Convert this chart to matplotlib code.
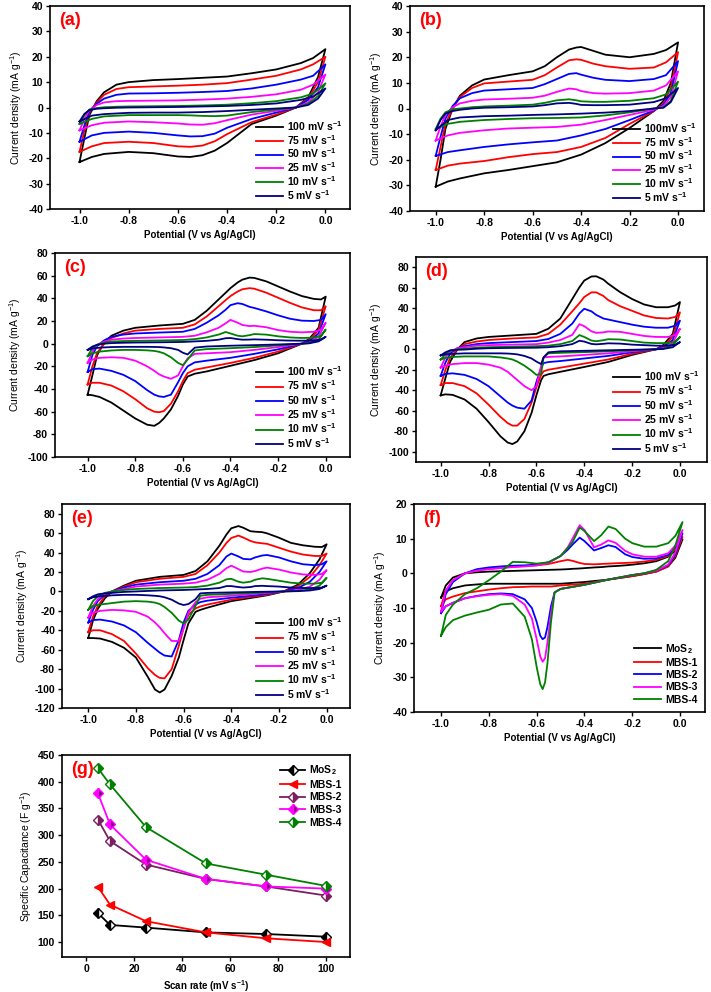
# -*- coding: utf-8 -*-
import matplotlib
matplotlib.use("Agg")
import matplotlib.pyplot as plt

plt.rcParams['font.family'] = ['Liberation Sans', 'DejaVu Sans']
plt.rcParams['mathtext.default'] = 'regular'

# ---------------- data ----------------
rate_labels = ['100 mV s$^{-1}$', '75 mV s$^{-1}$', '50 mV s$^{-1}$',
               '25 mV s$^{-1}$', '10 mV s$^{-1}$', '5 mV s$^{-1}$']
rate_labels_b = ['100mV s$^{-1}$'] + rate_labels[1:]
rate_colors = ['#000000', '#ff0000', '#0000ff', '#ff00ff', '#008000', '#000080']

# (a)
a_x_up = [-1.0, -0.98, -0.96, -0.93, -0.9, -0.85, -0.8, -0.7, -0.6, -0.5, -0.4, -0.3, -0.2, -0.1, -0.05, 0.0]
a_x_dn = [0.0, -0.03, -0.07, -0.12, -0.2, -0.3, -0.4, -0.45, -0.5, -0.55, -0.6, -0.7, -0.8, -0.9, -0.95, -1.0]
a_up = [
    [-21.5, -12, -3, 2.5, 6, 9, 10, 10.8, 11.2, 11.7, 12.2, 13.5, 15, 17.5, 19.5, 23],
    [-17.5, -9, -2, 2, 5, 7.3, 8, 8.3, 8.6, 9, 9.6, 11, 12.5, 15, 17, 20],
    [-13.5, -7, -1.5, 1.5, 3.5, 5, 5.5, 5.6, 5.8, 6.1, 6.5, 7.5, 9, 11, 12.5, 17],
    [-9, -4.5, -1, 1, 2, 2.5, 2.6, 2.7, 2.8, 3.1, 3.5, 4.2, 5.2, 7, 9, 13],
    [-6.5, -3, -0.8, -0.2, 0.1, 0.3, 0.4, 0.5, 0.6, 0.8, 1.1, 1.7, 2.5, 4, 5.5, 9.5],
    [-5.5, -2.5, -1, -0.5, -0.3, -0.1, 0, 0.1, 0.2, 0.4, 0.6, 1, 1.6, 3, 4.3, 7.5],
]
a_dn = [
    [23, 12, 4, 0, -3.2, -6.5, -14, -17, -18.8, -19.5, -19.3, -18, -17.5, -18.3, -19.5, -21.5],
    [20, 10, 3.5, 0, -2.8, -5.8, -10.5, -13.3, -15, -15.5, -15.3, -14, -13.5, -14, -15.3, -17.5],
    [17, 8, 3, 0, -2, -4.5, -8, -10.3, -11.3, -11.4, -11, -10, -9.5, -10, -11, -13.5],
    [13, 6, 2, 0, -1.3, -2.8, -5, -6.2, -6.8, -6.7, -6.3, -5.8, -5.5, -6, -7, -9],
    [9.5, 4.5, 1.5, 0, -0.8, -1.8, -3.2, -3.4, -3.3, -3.1, -3, -3, -3, -3.5, -4.5, -6.5],
    [7.5, 3.5, 1, 0, -0.4, -0.9, -1.4, -1.6, -1.8, -1.9, -2, -2, -2.1, -2.6, -3.2, -5.5],
]

# (b)
b_x_up = [-1.0, -0.98, -0.96, -0.93, -0.9, -0.85, -0.8, -0.7, -0.6, -0.55, -0.5, -0.45, -0.42, -0.4, -0.35, -0.3, -0.2, -0.1, -0.05, 0.0]
b_x_dn = [0.0, -0.03, -0.06, -0.1, -0.2, -0.3, -0.4, -0.5, -0.6, -0.7, -0.8, -0.9, -0.95, -1.0]
b_up = [
    [-30.5, -20, -8, 0, 5, 9, 11.3, 13, 14.5, 16.5, 20, 23, 23.8, 24, 22.5, 21, 20, 21.3, 22.8, 25.8],
    [-24, -15, -6, 0, 4.5, 8, 9.8, 10.5, 11.2, 13, 16, 18.8, 19.2, 19, 17.5, 16.5, 15.5, 16, 18, 22],
    [-18.5, -11, -4, 1, 4, 6, 7, 7.5, 8, 9.5, 11.5, 13.5, 13.8, 13.2, 12, 11.2, 10.7, 11.5, 13, 18.5],
    [-12.5, -7, -2.5, 0.5, 2, 3, 3.5, 3.8, 4.2, 5, 6.5, 7.8, 7.5, 6.8, 6, 5.8, 6, 7, 9, 14.5],
    [-8, -4, -1.5, -0.3, 0, 0.5, 0.8, 1.1, 1.5, 2.2, 3.2, 3.6, 3.2, 2.8, 2.6, 2.6, 3, 4, 5.5, 10.5],
    [-8.5, -4.5, -2, -1, -0.5, 0, 0.3, 0.5, 0.8, 1.3, 2, 2.2, 1.8, 1.4, 1.3, 1.3, 1.5, 2.5, 4, 8],
]
b_dn = [
    [25.8, 10, 3, -1, -7.6, -13.5, -18, -21, -22.5, -24, -25.3, -27.3, -28.5, -30.5],
    [22, 8, 2, -1, -6, -11.5, -15, -17, -17.8, -19, -20.5, -21.5, -22.3, -24],
    [18.5, 6, 1.5, -0.8, -4.5, -8, -10.5, -12.5, -13.2, -14, -15, -16.3, -17, -18.5],
    [14.5, 4.5, 1, -0.5, -2.5, -4.5, -6.3, -7.2, -7.5, -7.8, -8.5, -9.5, -10.5, -12.5],
    [10.5, 3, 0.5, 0, -1.5, -2.7, -3.5, -3.7, -3.8, -4.1, -4.5, -5.2, -6, -8],
    [8, 2.5, 0.3, 0, -1, -1.6, -2, -2.3, -2.5, -2.8, -3, -3.5, -4.5, -8.5],
]

# (c)
c_x_up = [-1.0, -0.98, -0.96, -0.93, -0.9, -0.85, -0.8, -0.7, -0.6, -0.55, -0.5, -0.45, -0.42,
          -0.4, -0.37, -0.35, -0.32, -0.3, -0.25, -0.2, -0.15, -0.1, -0.05, -0.02, 0.0]
c_x_dn = [0.0, -0.03, -0.07, -0.1, -0.2, -0.3, -0.4, -0.5, -0.55, -0.58, -0.6, -0.62,
          -0.65, -0.68, -0.7, -0.72, -0.75, -0.8, -0.85, -0.9, -0.95, -0.98, -1.0]
c_up = [
    [-45, -28, -10, 1, 7, 11.5, 14, 16, 17.5, 21, 29, 39, 45, 49, 54, 56.5, 58.3, 58, 55, 50.5, 46, 42, 39.5, 39, 41.5],
    [-36, -20, -8, 0, 5, 9, 11.5, 13, 14, 17, 24, 33, 38.5, 42, 46, 48, 49, 48.5, 45, 40.5, 36, 32, 29.5, 29.5, 33],
    [-25, -10, -2, 3, 6, 8, 9, 9.8, 10.5, 13, 18.5, 25, 30, 34, 35.7, 35, 32.5, 31.5, 28.5, 25, 22, 20.3, 20, 21, 26],
    [-17, -7, -1, 2, 3.5, 4.5, 5, 5.5, 6, 7, 10, 14, 18, 21, 18.5, 16.5, 15.5, 15.8, 14.5, 12, 10.5, 10, 10.5, 12.5, 18.5],
    [-11, -4, -1, 1, 1.8, 2.3, 2.5, 2.8, 3.2, 4, 5.5, 8, 10.3, 9, 7, 6.5, 7.5, 8.5, 8, 6.5, 5.5, 5, 5.3, 7, 12.5],
    [-5.5, -2.5, -1, 0, 0.5, 0.8, 1, 1.2, 1.5, 2, 2.5, 3.5, 4.8, 5, 4, 3.5, 3.6, 3.8, 3.5, 3, 2.7, 2.6, 2.8, 3.8, 6],
]
c_dn = [
    [41.5, 14, 4, 0, -8.5, -14.5, -19.5, -24.5, -26.5, -29, -36, -46, -58, -66, -70, -72.5, -71.5, -66, -59, -52, -47, -45.5, -45],
    [33, 12, 3, 0, -7, -12.5, -17, -21, -23, -26, -33, -42, -53, -59.5, -60.5, -60, -57, -49, -42, -37, -34.5, -34.5, -36],
    [26, 9, 2, 0, -5, -9, -12.5, -15, -16.5, -20, -26, -34, -45, -47, -46.5, -45, -41, -33, -27.5, -24, -22, -22.5, -25],
    [18.5, 6, 1, 0, -3, -5.5, -7.5, -8.5, -9, -13, -20, -28, -31, -29, -27, -24, -20, -15, -12.5, -12, -12.5, -14, -17],
    [12.5, 3.5, 0.5, 0, -1.5, -3, -4, -4.8, -6, -14, -19, -17, -12, -8.5, -7.2, -6.4, -5.9, -5.5, -5.5, -6, -7, -8.5, -11],
    [6, 2, 0.3, 0, -0.7, -1.3, -1.8, -2.5, -3.5, -9.5, -8, -5.5, -4, -3.3, -3, -2.9, -2.8, -2.8, -2.8, -3, -3.5, -4.3, -5.5],
]

# (d)
d_x_up = c_x_up
d_x_dn = [0.0, -0.03, -0.07, -0.1, -0.2, -0.3, -0.4, -0.5, -0.55, -0.57, -0.58, -0.6, -0.62,
          -0.65, -0.68, -0.7, -0.72, -0.75, -0.8, -0.85, -0.9, -0.95, -0.98, -1.0]
d_up = [
    [-45, -28, -12, 0, 7, 10.5, 12, 13.5, 15, 20, 30, 49, 60.5, 67, 71, 71.2, 68, 64, 55.7, 49, 43.7, 41, 41, 42.7, 46],
    [-35, -20, -8, 0, 5, 7.5, 9, 10.5, 11.5, 15, 24, 37, 45, 51, 55.5, 55.5, 52, 48, 42, 37.5, 33, 30.5, 30, 31.5, 36],
    [-26, -13, -4, 1, 3, 5, 6, 7, 8, 10, 15, 25, 35, 39.5, 37, 33.5, 30, 29, 26.5, 24, 22, 21, 21, 23, 28],
    [-18, -8, -2, 1, 2, 3.5, 4, 4.5, 5, 6.5, 9, 14, 24.5, 22.5, 17.5, 16, 16.5, 17.3, 17, 15, 13, 12, 12, 14, 20],
    [-10, -5, -1.5, 0, 0.5, 1.5, 2, 2.5, 3, 3.5, 5, 8, 13.8, 12, 8.5, 7.8, 8.8, 9.8, 9.5, 8, 6.5, 6, 6, 7.5, 12],
    [-6, -3, -1, -0.5, -0.3, 0.5, 1, 1.3, 1.5, 2, 3, 5, 8.3, 7.5, 5.2, 4.8, 5.3, 5.8, 5.5, 4.5, 4, 3.5, 3.5, 4.5, 7],
]
d_dn = [
    [46, 15, 4, 0, -5.5, -12.4, -17.3, -22, -24.4, -26, -30, -45, -62, -80, -90, -92.5, -91, -85, -71, -58, -49, -44.5, -44, -45],
    [36, 12, 3, 0, -4.5, -10, -14, -18, -20, -21.5, -25, -37, -52, -68, -74.5, -74.5, -72, -66, -54, -43, -36, -33, -33, -35],
    [28, 9, 2, 0, -3, -6.5, -9, -11.5, -12.5, -13.5, -18, -32, -50, -58, -57, -55, -52, -46, -36, -29, -25, -23.5, -24, -26],
    [20, 6, 1, 0, -2, -4, -5.5, -7, -7.5, -8, -16, -36, -40, -36, -30, -26, -22, -18, -15, -13.5, -13.5, -14.5, -16, -18],
    [12, 4, 0.5, 0, -1, -2, -2.8, -3.5, -4, -8, -24, -25, -21, -16, -12, -10, -9, -8, -7, -7, -7, -7.5, -8.5, -10],
    [7, 2, 0.3, 0, -0.5, -1, -1.5, -2, -3, -8, -14.5, -12, -9, -6.5, -5, -4.5, -4.2, -4, -4, -4, -4, -4.5, -5, -6],
]

# (e)
e_x_up = [-1.0, -0.98, -0.96, -0.93, -0.9, -0.85, -0.8, -0.7, -0.6, -0.55, -0.5, -0.45, -0.42,
          -0.4, -0.37, -0.35, -0.32, -0.3, -0.27, -0.25, -0.2, -0.15, -0.1, -0.05, -0.02, 0.0]
e_x_dn = [0.0, -0.03, -0.07, -0.12, -0.18, -0.25, -0.3, -0.4, -0.5, -0.53, -0.55, -0.58, -0.6,
          -0.62, -0.65, -0.68, -0.7, -0.72, -0.75, -0.8, -0.85, -0.9, -0.95, -0.98, -1.0]
e_up = [
    [-48, -30, -18, -7, 0, 6, 11, 15, 17, 21, 31, 47, 58.7, 65, 67.3, 65.6, 62, 61.5, 61, 59.8, 55.3, 50, 47.5, 46, 45.7, 48.5],
    [-42, -26, -15, -5, 0, 5, 9.5, 13, 15, 18, 27, 40, 50, 55, 57.5, 55.5, 52, 50.5, 49.5, 49, 45, 41, 38, 36.5, 36.5, 39],
    [-32, -19, -10, -3, 0, 4, 7, 9.5, 11, 13, 18, 27, 36, 39, 36, 33.5, 33, 35, 37, 37.5, 35, 31, 28, 27, 28, 31],
    [-27, -15, -8, -2.5, 0, 2.5, 5, 7, 8, 9, 12, 18, 24, 26.5, 23, 20.5, 20, 21, 23.5, 24.5, 22.5, 19.5, 17.5, 17, 18, 22],
    [-19, -10, -5, -1.5, 0, 1.5, 2.5, 3.5, 4, 4.5, 6, 9, 12.5, 13, 10, 9, 10, 12, 13.5, 13, 11, 9, 8, 8, 9, 14],
    [-8, -5, -3, -2, -1.5, -0.5, 0, 1, 1.5, 2, 2.5, 3.5, 5.5, 5.5, 4.5, 4, 4.5, 5.5, 5.8, 5.5, 5, 4, 3.5, 3.5, 4, 6],
]
e_dn = [
    [48.5, 33, 19, 7, 0, -4, -6, -10, -16.7, -19, -21, -33, -50, -68, -87, -101, -104, -101, -88, -68, -58, -52, -48.5, -48, -48],
    [39, 27, 15, 5.5, 0, -3.5, -5, -8.5, -13.5, -15.5, -17.5, -24, -38, -56, -80, -89.5, -89, -86, -79, -64, -51, -44, -40, -40, -42],
    [31, 20, 10, 3.5, 0, -2.5, -4, -6.5, -9.5, -11, -13.5, -20, -32, -50, -67, -66, -63, -59, -53, -42, -35, -31, -29, -29.5, -32],
    [22, 12, 5, 1.5, 0, -1.5, -2.5, -4.5, -6, -7.5, -11, -22, -38, -51, -51, -43, -37, -32, -26, -21, -19.5, -19, -20, -22, -27],
    [14, 6, 2, 0.5, 0, -0.8, -1.5, -2.5, -3.5, -4.5, -15, -29, -33, -30, -22, -16, -13, -11.5, -10.5, -10, -10.5, -12, -13.5, -15, -19],
    [6, 2.5, 1, 0.3, 0, -0.3, -0.5, -1, -1.5, -2, -8, -13, -14, -12.5, -8.5, -6, -5, -4.5, -4, -3.5, -3.5, -4, -5, -6, -8],
]

# (f)
f_labels = ['MoS$_2$', 'MBS-1', 'MBS-2', 'MBS-3', 'MBS-4']
f_colors = ['#000000', '#ff0000', '#0000ff', '#ff00ff', '#008000']
f_x_up = [-1.0, -0.98, -0.95, -0.9, -0.85, -0.8, -0.75, -0.7, -0.65, -0.6, -0.55, -0.5, -0.47, -0.45,
          -0.42, -0.4, -0.36, -0.33, -0.3, -0.27, -0.23, -0.2, -0.15, -0.1, -0.05, -0.02, 0.01]
f_x_dn = [0.01, -0.02, -0.05, -0.1, -0.15, -0.2, -0.3, -0.4, -0.5, -0.525, -0.54, -0.555, -0.565,
          -0.575, -0.585, -0.6, -0.62, -0.65, -0.7, -0.75, -0.8, -0.85, -0.9, -0.95, -0.98, -1.0]
f_up = [
    [-7, -3.5, -1.2, 0, 0.3, 0.5, 0.6, 0.7, 0.8, 0.9, 1.0, 1.1, 1.2, 1.3, 1.4, 1.5, 1.7, 1.8, 2.0, 2.1, 2.3, 2.5, 2.9, 3.5, 4.8, 6.5, 9.8],
    [-9.5, -5, -2, 0, 0.8, 1.3, 1.6, 1.9, 2.1, 2.3, 2.7, 3.5, 3.9, 3.6, 3.0, 2.7, 2.6, 2.7, 2.8, 2.9, 3.0, 3.1, 3.4, 3.9, 5, 7, 10.5],
    [-11.5, -6, -2.5, 0, 1.2, 1.7, 2, 2.2, 2.3, 2.5, 3.2, 5, 6.8, 8.3, 10.3, 9.3, 6.6, 7.3, 8.1, 7.6, 5.5, 4.7, 4.2, 4.3, 5.3, 7.5, 11.5],
    [-11, -5, -2, 0, 0.8, 1.2, 1.5, 1.8, 2.0, 2.3, 3.0, 5, 7.5, 10, 13.9, 12.5, 7.5, 8.3, 9.5, 8.8, 6.5, 5.5, 4.8, 4.8, 5.8, 8, 12.5],
    [-18, -12, -9, -6, -4.3, -2, 0.5, 3.3, 3.2, 2.8, 3.2, 5, 7.3, 9, 13.2, 12.2, 9.3, 11, 13.5, 12.8, 10, 8.7, 7.7, 7.7, 8.7, 10.8, 14.8],
]
f_dn = [
    [9.8, 4.5, 2, 0.5, -0.2, -0.8, -1.8, -2.5, -3, -3, -3, -3, -3, -3, -3, -3, -3, -3, -3, -3, -3, -3.2, -3.5, -4.3, -5.2, -7],
    [10.5, 5, 2, 0.5, -0.2, -0.8, -1.8, -3, -3.5, -3.7, -3.8, -3.8, -3.8, -3.8, -3.8, -3.8, -3.8, -3.9, -4, -4.3, -4.7, -5.2, -5.7, -6.7, -7.5, -9.5],
    [11.5, 5.5, 2.3, 0.8, 0, -0.5, -1.8, -3.3, -4.5, -5.5, -9.5, -15.5, -18.5, -19, -18, -14, -10, -7.5, -6, -5.8, -6, -6.5, -7.2, -8.5, -9.5, -11.5],
    [12.5, 6, 2.5, 0.8, 0, -0.5, -1.8, -3.3, -4.5, -5.5, -11.5, -20, -24.5, -25.5, -24, -19, -13, -9, -6.5, -6, -6.2, -6.6, -7.2, -8.5, -9.5, -11],
    [14.8, 8, 3.5, 1, 0, -0.5, -1.8, -3.3, -4.5, -5.5, -14, -26, -31.5, -33.4, -32, -27, -19, -12.5, -8.7, -9, -10.5, -11.3, -12.2, -13.5, -15.5, -18],
]

# (g)
scan_rate = [5, 10, 25, 50, 75, 100]
cap_mos2 = [154, 132, 127, 118, 115, 110]
cap_mbs1 = [203, 170, 139, 118, 107, 100]
cap_mbs2 = [329, 289, 245, 218, 204, 187]
cap_mbs3 = [378, 320, 254, 218, 204, 200]
cap_mbs4 = [425, 395, 315, 247, 226, 205]

# ---------------- figure ----------------
W, H = 711, 992
fig = plt.figure(figsize=(W / 100, H / 100), dpi=100)


def box(l, t, r, b):
    return [l / W, 1 - b / H, (r - l) / W, (b - t) / H]


def style(ax, letter, xlabel, ylabel):
    for s in ax.spines.values():
        s.set_linewidth(1.2)
    ax.tick_params(direction='out', length=3, width=1, labelsize=7.5, pad=2)
    for t in ax.get_xticklabels() + ax.get_yticklabels():
        t.set_fontweight('bold')
    ax.set_xlabel(xlabel, fontsize=7, fontweight='bold', labelpad=3)
    ax.set_ylabel(ylabel, fontsize=7.5, labelpad=3)
    ax.text(0.03, 0.97, letter, transform=ax.transAxes, color='#ff0000',
            fontsize=13, fontweight='bold', va='top', ha='left')


def cv_panel(rect, letter, xu, xd, ups, dns, labels, colors, ylim, yticks, xlim, spacing):
    ax = fig.add_axes(rect)
    for yu, yd, lab, col in zip(ups, dns, labels, colors):
        ax.plot(xu + xd, yu + yd, color=col, lw=1.3, label=lab)
    ax.set_xlim(*xlim)
    ax.set_ylim(*ylim)
    ax.set_yticks(yticks)
    ax.set_xticks([-1.0, -0.8, -0.6, -0.4, -0.2, 0.0])
    ax.set_xticklabels(['-1.0', '-0.8', '-0.6', '-0.4', '-0.2', '0.0'])
    ax.set_yticklabels([str(v) for v in yticks])
    style(ax, letter, 'Potential (V vs Ag/AgCl)', 'Current density (mA g$^{-1}$)')
    ax.legend(loc='lower right', frameon=False, handlelength=2.6,
              handletextpad=0.4, labelspacing=spacing, borderaxespad=0.3,
              prop={'weight': 'bold', 'size': 7.5})
    return ax


cv_panel(box(50, 6, 350, 209), '(a)', a_x_up, a_x_dn, a_up, a_dn, rate_labels, rate_colors,
         (-40, 40), list(range(-40, 41, 10)), (-1.12, 0.1), 0.0)
cv_panel(box(410, 6, 704, 211), '(b)', b_x_up, b_x_dn, b_up, b_dn, rate_labels_b, rate_colors,
         (-40, 40), list(range(-40, 41, 10)), (-1.106, 0.107), 0.0)
cv_panel(box(55, 253, 350, 457), '(c)', c_x_up, c_x_dn, c_up, c_dn, rate_labels, rate_colors,
         (-100, 80), list(range(-100, 81, 20)), (-1.137, 0.102), 0.05)
cv_panel(box(416, 257, 707, 462), '(d)', d_x_up, d_x_dn, d_up, d_dn, rate_labels, rate_colors,
         (-110, 90), list(range(-100, 81, 20)), (-1.103, 0.113), 0.05)
cv_panel(box(62, 504, 350, 708), '(e)', e_x_up, e_x_dn, e_up, e_dn, rate_labels, rate_colors,
         (-120, 90), list(range(-120, 81, 20)), (-1.11, 0.098), 0.05)
cv_panel(box(414, 504, 705, 712), '(f)', f_x_up, f_x_dn, f_up, f_dn, f_labels, f_colors,
         (-40, 20), list(range(-40, 21, 10)), (-1.113, 0.104), 0.22)

# (g) specific capacitance
ax = fig.add_axes(box(62, 755, 350, 957))
g_series = [
    (cap_mos2, 'MoS$_2$', '#000000', 'D', 'left'),
    (cap_mbs1, 'MBS-1', '#ff0000', '<', 'full'),
    (cap_mbs2, 'MBS-2', '#7b1f5f', 'D', 'right'),
    (cap_mbs3, 'MBS-3', '#ff00ff', 'D', 'left'),
    (cap_mbs4, 'MBS-4', '#008000', 'D', 'right'),
]
for vals, lab, col, mk, fs in g_series:
    alt = '#800080' if lab == 'MBS-3' else 'white'
    ax.plot(scan_rate, vals, color=col, lw=1.3, marker=mk, ms=5.5, fillstyle=fs,
            markerfacecoloralt=alt, markeredgecolor=col, label=lab)
ax.set_xlim(-10, 110)
ax.set_ylim(72, 450)
ax.set_xticks([0, 20, 40, 60, 80, 100])
ax.set_yticks(list(range(100, 451, 50)))
style(ax, '(g)', 'Scan rate (mV s$^{-1}$)', 'Specific Capacitance (F g$^{-1}$)')
ax.legend(loc='upper right', frameon=False, handlelength=2.4, handletextpad=0.4,
          labelspacing=0.25, borderaxespad=0.4, prop={'weight': 'bold', 'size': 7.5})

fig.savefig('out.png', dpi=100)
